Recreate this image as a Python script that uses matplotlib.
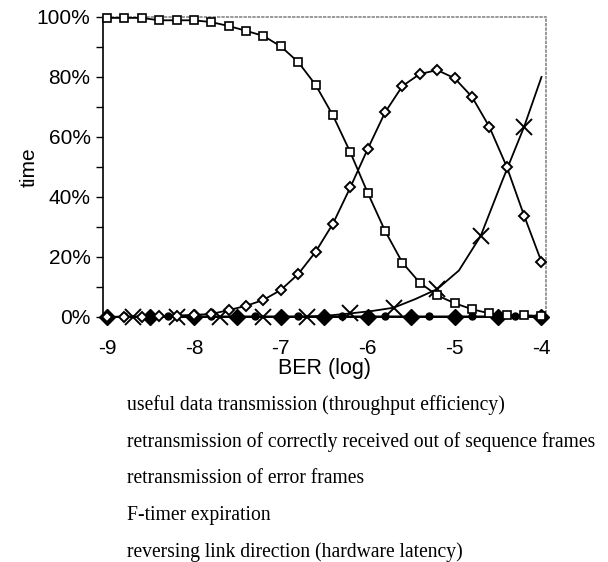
import matplotlib
matplotlib.use("Agg")
import matplotlib.pyplot as plt
import numpy as np
from matplotlib.ticker import MultipleLocator, FuncFormatter

# log10(BER) grid for the dense series (every 0.2)
ber_fine = np.round(np.arange(-9.0, -3.99, 0.2), 1)

useful = [99.7, 99.7, 99.7, 98.9, 98.9, 98.9, 98.3, 97.0, 95.4, 93.7, 90.2, 85.0, 77.4,
          67.2, 54.9, 41.4, 28.7, 18.1, 11.4, 7.2, 4.6, 2.6, 1.2, 0.6, 0.6, 0.3]
out_of_seq = [0.0, 0.0, 0.0, 0.3, 0.5, 0.7, 1.0, 2.3, 3.7, 5.7, 9.0, 14.3, 21.7,
              31.1, 43.2, 56.0, 68.2, 77.0, 81.0, 82.3, 79.6, 73.4, 63.4, 50.1, 33.8, 18.4]

# retransmission of error frames: curve and its markers
err_x = [-9.0, -8.5, -8.0, -7.5, -7.0, -6.7, -6.45, -6.2, -5.95, -5.7, -5.45, -5.2,
         -4.95, -4.7, -4.45, -4.2, -4.0]
err_y = [0.0, 0.0, 0.0, 0.0, 0.0, 0.1, 0.5, 1.2, 2.0, 3.1, 6.0, 9.3,
         15.5, 27.0, 45.5, 63.4, 80.0]
err_mx = [-8.7, -8.2, -7.7, -7.2, -6.7, -6.2, -5.7, -5.2, -4.7, -4.2]
err_my = [0.0, 0.0, 0.0, 0.0, 0.1, 1.2, 3.1, 9.3, 27.0, 63.4]

# F-timer expiration
ftimer_x = [-9.0, -8.8, -8.3, -7.8, -7.3, -6.8, -6.3, -5.8, -5.3, -4.8, -4.3, -4.0]
ftimer_y = [0.0, 0.2, 0.2, 0.2, 0.2, 0.2, 0.2, 0.2, 0.2, 0.2, 0.2, 0.2]
ftimer_mx = ftimer_x[1:-1]
ftimer_my = ftimer_y[1:-1]

# reversing link direction
rev_x = [-9.0, -8.5, -8.0, -7.5, -7.0, -6.5, -6.0, -5.5, -5.0, -4.5, -4.0]
rev_y = [0.0] * 11

legend_lines = [
    "useful data transmission (throughput efficiency)",
    "retransmission of correctly received out of sequence frames",
    "retransmission of error frames",
    "F-timer expiration",
    "reversing link direction (hardware latency)",
]

plt.rcParams['font.family'] = ['Liberation Sans', 'DejaVu Sans']

fig = plt.figure(figsize=(6.08, 5.62), dpi=100)
ax = fig.add_axes([103 / 608, 1 - 317 / 562, 443 / 608, 300 / 562])

lw = 1.3
ax.plot(rev_x, rev_y, color='black', lw=lw, marker='D', ms=8.5,
        mfc='black', mec='black', zorder=3, clip_on=False)
ax.plot(ftimer_x, ftimer_y, color='black', lw=lw, zorder=3, clip_on=False)
ax.plot(ftimer_mx, ftimer_my, ls='none', marker='o', ms=5,
        mfc='black', mec='black', zorder=4, clip_on=False)
ax.plot(err_x, err_y, color='black', lw=lw, zorder=3, clip_on=False)
ax.plot(err_mx, err_my, ls='none', marker='x', ms=12, mew=1.4,
        color='black', zorder=4, clip_on=False)
ax.plot(ber_fine, out_of_seq, color='black', lw=lw, marker='D', ms=5.5,
        mfc='white', mec='black', mew=1.4, zorder=5, clip_on=False)
ax.plot(ber_fine, useful, color='black', lw=lw, marker='s', ms=5.5,
        mfc='white', mec='black', mew=1.2, zorder=5, clip_on=False)

ax.set_xlim(-9.046, -3.948)
ax.set_ylim(0, 100)
ax.xaxis.set_major_locator(MultipleLocator(1))
ax.yaxis.set_major_locator(MultipleLocator(20))
ax.yaxis.set_minor_locator(MultipleLocator(10))
ax.yaxis.set_major_formatter(FuncFormatter(lambda v, p: f"{v:.0f}%"))
ax.xaxis.set_major_formatter(FuncFormatter(lambda v, p: f"{v:.0f}".replace('\u2212', '-')))

ax.tick_params(axis='y', which='both', direction='out', length=5, width=1,
               labelsize=15, pad=4)
ax.tick_params(axis='x', length=0, labelsize=15, pad=16)

for s in ['top', 'right']:
    ax.spines[s].set_color('#888888')
    ax.spines[s].set_linestyle(':')
    ax.spines[s].set_linewidth(1.2)
for s in ['left', 'bottom']:
    ax.spines[s].set_color('black')
    ax.spines[s].set_linewidth(1.2)

ax.set_xlabel("BER (log)", fontsize=15.5, labelpad=0)
ax.set_ylabel("time", fontsize=15, labelpad=-1)

for i, txt in enumerate(legend_lines):
    fig.text(127 / 608, 1 - (405 + 36.8 * i) / 562, txt, fontsize=14.1,
             family=['Liberation Serif', 'DejaVu Serif'], va='center', ha='left')

fig.savefig("out.png", dpi=100)
